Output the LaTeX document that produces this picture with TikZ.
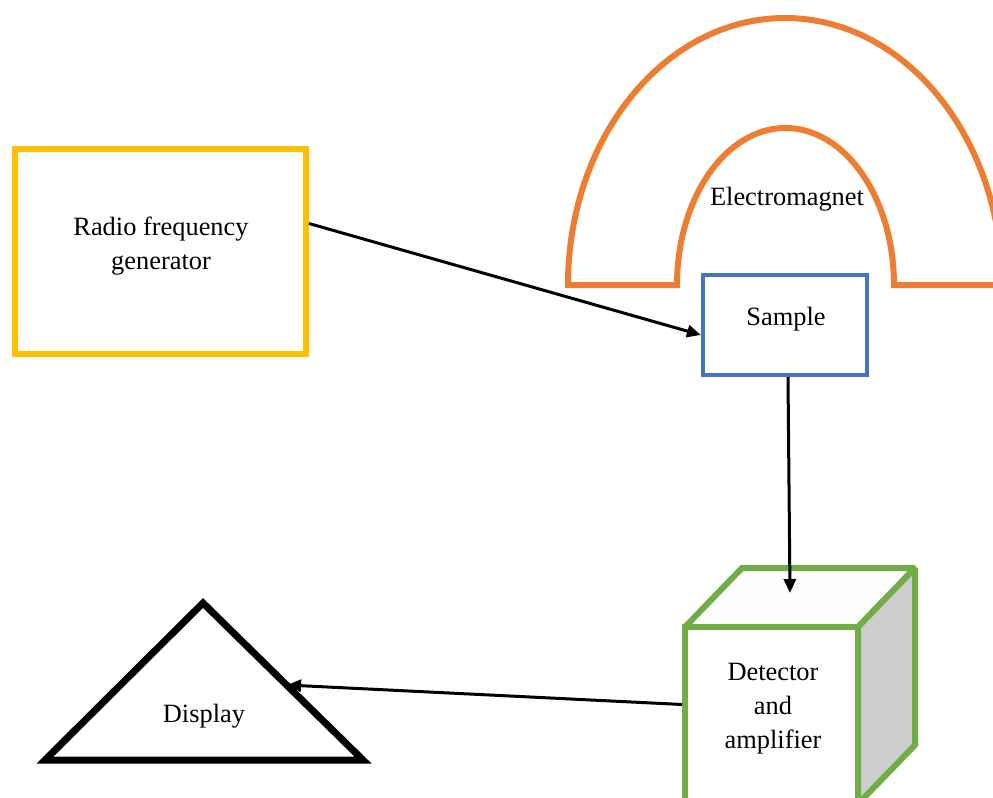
\documentclass[tikz,border=0pt]{standalone}
\usepackage{fontspec}
\setmainfont{Liberation Serif}
\usetikzlibrary{arrows.meta}
\definecolor{emorange}{HTML}{ED7D31}
\definecolor{rfyellow}{HTML}{FFC000}
\definecolor{smpblue}{HTML}{4472C4}
\definecolor{detgreen}{HTML}{70AD47}
\definecolor{sidegray}{HTML}{CDCDCD}
\definecolor{topwhite}{HTML}{FDFDFD}
\begin{document}
\begin{tikzpicture}[x=0.5pt,y=0.5pt,
  lbl/.style={font=\fontsize{13.2}{17}\selectfont, align=center, inner sep=0pt},
  conn/.style={line width=1.5pt, -{Triangle[length=7pt,width=6pt]}},
  boxrf/.style={draw=rfyellow, line width=3pt, inner sep=0pt, minimum width=145.5pt, minimum height=102.5pt},
  boxsmp/.style={draw=smpblue, line width=2pt, inner sep=0pt, minimum width=82pt, minimum height=50pt},
  cube/.style={draw=detgreen, line width=3pt, miter limit=2}]
\useasboundingbox (0,0) rectangle (993,-798);
\clip (0,0) rectangle (993,-798);
\fill[white] (0,0) rectangle (993,-798);

% Electromagnet
\draw[emorange, line width=3pt] (568,-285) arc[start angle=180, end angle=0, x radius=217, y radius=267]
  -- (894,-285) arc[start angle=0, end angle=180, x radius=108.5, y radius=157] -- cycle;
\node[lbl] (em) at (787,-199) {Electromagnet};

% Radio frequency generator
\node[boxrf] (rf) at (160.5,-251.5) {};
\node[lbl] (rftxt) at (161,-246) {Radio frequency\\generator};

% Sample
\node[boxsmp] (sample) at (785,-325) {};
\node[lbl] (smptxt) at (786,-319) {Sample};

% Detector cube
\filldraw[cube, fill=topwhite] (685,-627) -- (742,-568) -- (915,-568) -- (858,-627) -- cycle;
\filldraw[cube, fill=sidegray] (858,-627) -- (915,-568) -- (915,-745) -- (858,-804) -- cycle;
\node[cube, fill=white, inner sep=0pt, minimum width=86.5pt, minimum height=88.5pt] (det) at (771.5,-715.5) {};
\node[lbl] (dettxt) at (773,-709) {Detector\\and\\amplifier};
\coordinate (detin) at (790,-593);

% Display triangle
\draw[line width=3.5pt] (203,-603) -- (363,-760) -- (45,-760) -- cycle;
\node[lbl] (disp) at (204,-716) {Display};
\coordinate (dispin) at (287,-685);

% Connectors
\draw[conn] ([yshift=14pt]rf.east) -- ([yshift=-5pt]sample.west);
\draw[conn] ([xshift=1.5pt]sample.south) -- (detin);
\draw[conn] ([yshift=5.5pt]det.west) -- (dispin);
\end{tikzpicture}
\end{document}
